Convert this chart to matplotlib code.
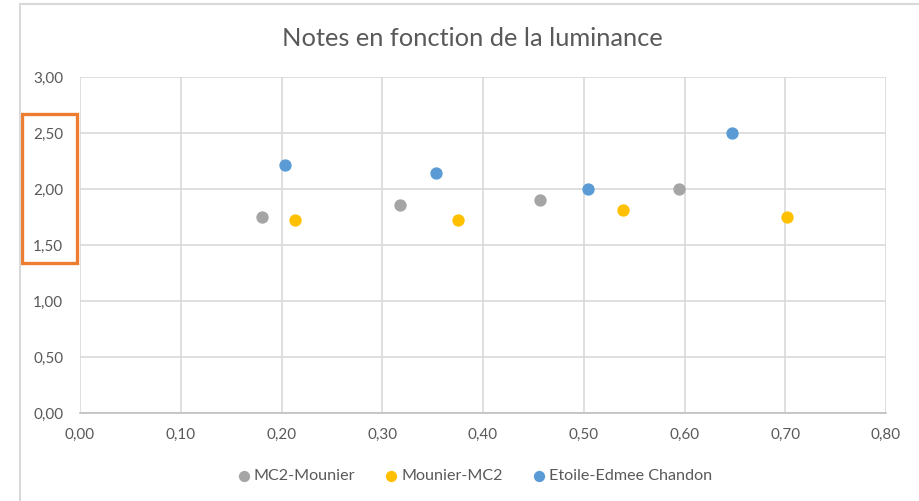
import matplotlib.pyplot as plt
from matplotlib.lines import Line2D
from matplotlib.patches import Rectangle
from matplotlib.ticker import FuncFormatter

# data
mc2_mounier_x = [0.181, 0.318, 0.457, 0.595]
mc2_mounier_y = [1.75, 1.86, 1.90, 2.00]
mounier_mc2_x = [0.213, 0.375, 0.539, 0.702]
mounier_mc2_y = [1.72, 1.72, 1.81, 1.75]
etoile_x = [0.203, 0.353, 0.504, 0.647]
etoile_y = [2.21, 2.14, 2.00, 2.50]
x_ticks = [0.0, 0.1, 0.2, 0.3, 0.4, 0.5, 0.6, 0.7, 0.8]
y_ticks = [0.0, 0.5, 1.0, 1.5, 2.0, 2.5, 3.0]

plt.rcParams['font.family'] = ['Lato', 'DejaVu Sans']
txt = '#595959'
W, H = 919, 501

fig = plt.figure(figsize=(W / 100, H / 100), dpi=100)
ax = fig.add_axes([80 / W, 1 - 413 / H, (886 - 80) / W, (413 - 77) / H])

ax.scatter(mc2_mounier_x, mc2_mounier_y, s=62, color='#a5a5a5', zorder=3, label='MC2-Mounier')
ax.scatter(mounier_mc2_x, mounier_mc2_y, s=62, color='#ffc000', zorder=3, label='Mounier-MC2')
ax.scatter(etoile_x, etoile_y, s=62, color='#5b9bd5', zorder=3, label='Etoile-Edmee Chandon')

ax.set_xlim(0, 0.8)
ax.set_ylim(0, 3)
ax.set_xticks(x_ticks)
ax.set_yticks(y_ticks)
comma = FuncFormatter(lambda v, p: f'{v:.2f}'.replace('.', ','))
ax.xaxis.set_major_formatter(comma)
ax.yaxis.set_major_formatter(comma)
ax.tick_params(axis='x', length=0, labelsize=11, colors=txt, pad=11)
ax.tick_params(axis='y', length=0, labelsize=11, colors=txt, pad=12)
ax.grid(True, color='#d9d9d9', linewidth=1.2)
ax.set_axisbelow(True)
for s in ['top', 'right', 'left']:
    ax.spines[s].set_visible(False)
ax.spines['bottom'].set_color('#bfbfbf')
ax.spines['bottom'].set_linewidth(1.2)

fig.text(472 / W, 1 - 38 / H, 'Notes en fonction de la luminance',
         ha='center', va='center', fontsize=18.3, color=txt)

leg = fig.legend(loc='center', bbox_to_anchor=(475 / W, 1 - 476 / H), ncol=3,
                 frameon=False, fontsize=11.6, handlelength=0.7, handletextpad=0.25,
                 columnspacing=1.9, markerscale=0.9)
for t in leg.get_texts():
    t.set_color(txt)

# chart frame and the orange highlight box
fig.add_artist(Line2D([20 / W, 1], [1 - 4 / H, 1 - 4 / H], color='#d9d9d9', lw=1.5))
fig.add_artist(Line2D([20 / W, 20 / W], [0, 1 - 4 / H], color='#d9d9d9', lw=1.5))
fig.add_artist(Rectangle((22 / W, 1 - 263 / H), (77 - 22) / W, (263 - 114) / H,
                         fill=False, edgecolor='#ed7d31', lw=2.4))

fig.savefig('out.png', dpi=100)
